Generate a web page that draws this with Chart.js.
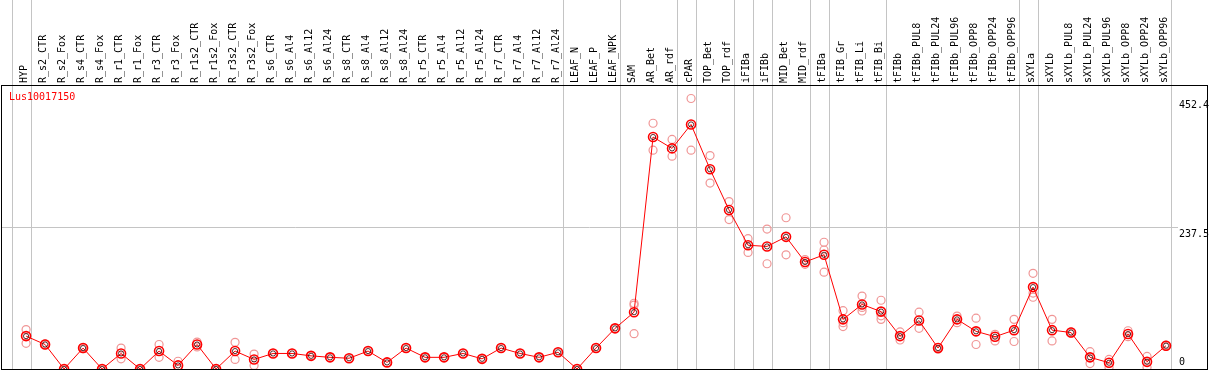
<!DOCTYPE html>
<html><head><meta charset="utf-8">
<script src="https://cdn.jsdelivr.net/npm/chart.js@4/dist/chart.umd.min.js"></script>
<style>html,body{margin:0;padding:0;background:#fff;overflow:hidden}#wrap{width:1209px;height:370px;position:relative}</style>
</head><body><div id="wrap"><canvas id="c" width="1209" height="370"></canvas></div>
<script>
const categories = ['HYP','R_s2_CTR','R_s2_Fox','R_s4_CTR','R_s4_Fox','R_r1_CTR','R_r1_Fox','R_r3_CTR','R_r3_Fox','R_r1s2_CTR','R_r1s2_Fox','R_r3s2_CTR','R_r3s2_Fox','R_s6_CTR','R_s6_Al4','R_s6_Al12','R_s6_Al24','R_s8_CTR','R_s8_Al4','R_s8_Al12','R_s8_Al24','R_r5_CTR','R_r5_Al4','R_r5_Al12','R_r5_Al24','R_r7_CTR','R_r7_Al4','R_r7_Al12','R_r7_Al24','LEAF_N','LEAF_P','LEAF_NPK','SAM','AR_Bet','AR_rdf','cPAR','TOP_Bet','TOP_rdf','iFIBa','iFIBb','MID_Bet','MID_rdf','tFIBa','tFIB_Gr','tFIB_Li','tFIB_Bi','tFIBb','tFIBb_PUL8','tFIBb_PUL24','tFIBb_PUL96','tFIBb_OPP8','tFIBb_OPP24','tFIBb_OPP96','sXYLa','sXYLb','sXYLb_PUL8','sXYLb_PUL24','sXYLb_PUL96','sXYLb_OPP8','sXYLb_OPP24','sXYLb_OPP96'];
const meanValues = [55,41,0,35,0,26,0,30,6,41,0,30,16,26,26,22,19.5,18,30,11,35,19.5,19.5,26,17,35,26,19.5,28,0,35,68,95,388,369,409,334,266,207,205,221,179,191,83,108,96,55,81,35,83,63,54,65,137,65,61,19.5,10.5,58.5,12,39];
const rep1 = [66,42,0,36,0,35,0,41,13,45,0,44.6,25,26,26,22,19.5,18,30,11,35,19.5,19.5,26,17,35,26,19.5,28,0,35,68,110,411,384,452.4,357,280,218,234,253,183,212,97.5,122,115,62,95,36,88.6,85,58,83,160,83,62,29,16,64,21,40];
const rep2 = [43,40.5,0,34,0,17,0,19.5,0,37,0,16,6,null,null,null,null,null,null,null,null,null,null,null,null,null,null,null,null,null,null,null,107,366,356,366,311,250,195,176,191,175,199,77.5,103,89,48.5,68,33,77.5,41,47,46,127,47,60,9,3,54,3,38];
const rep3 = [null,null,null,null,null,null,null,null,null,null,null,null,null,null,null,null,null,null,null,null,null,null,null,null,null,null,null,null,null,null,null,null,59,null,null,null,null,null,null,null,null,null,162,71,97,83,null,null,null,null,null,null,null,120,null,null,null,null,null,null,null];
const groupStarts = [0,1,29,32,35,36,38,39,40,42,43,46,53,54,61];
const yTickValues = [0, 237.5, 452.4];
const yTickLabels = ['0', '237.5', '452.4'];
const geneName = 'Lus10017150';

const X_MIN = -1.32, X_MAX = 60.63, Y_MAX = 475;
const FONT = {family: '"DejaVu Sans Mono", "Liberation Mono", monospace', size: 10};
const toXY = arr => arr.map((v, i) => (v === null ? null : {x: i, y: v})).filter(p => p);
const noPad = s => { s.paddingLeft = 0; s.paddingRight = 0; s.paddingTop = 0; s.paddingBottom = 0; };

const repStyle = {
  showLine: false, pointRadius: 4, pointBorderWidth: 1.2,
  pointBorderColor: 'rgba(240,150,150,1)', pointBackgroundColor: 'rgba(0,0,0,0)',
  borderColor: 'rgba(240,150,150,1)', order: 3
};

const decor = {
  id: 'decor',
  beforeDatasetsDraw(chart) {
    const {ctx, chartArea} = chart;
    const xs = chart.scales.x;
    ctx.save();
    ctx.strokeStyle = '#c4c4c4';
    ctx.lineWidth = 1;
    groupStarts.forEach(g => {
      const px = Math.round(xs.getPixelForValue(g - 0.76)) + 0.5;
      ctx.beginPath();
      ctx.moveTo(px, 0);
      ctx.lineTo(px, chartArea.bottom);
      ctx.stroke();
    });
    ctx.restore();
  },
  afterDraw(chart) {
    const {ctx, chartArea} = chart;
    ctx.save();
    ctx.strokeStyle = '#000';
    ctx.lineWidth = 1;
    ctx.strokeRect(1.5, chartArea.top + 0.5, chart.width - 3, chartArea.bottom - chartArea.top);
    ctx.fillStyle = '#ff0000';
    ctx.font = '10px ' + FONT.family;
    ctx.textBaseline = 'middle';
    ctx.textAlign = 'left';
    ctx.fillText(geneName, chartArea.left + 8, chartArea.top + 12);
    ctx.restore();
  }
};

new Chart(document.getElementById('c'), {
  type: 'line',
  data: {
    datasets: [
      {data: toXY(meanValues), borderColor: '#ff0000', borderWidth: 1, pointRadius: 4.5, pointBorderWidth: 1.6,
       pointBorderColor: '#ff0000', pointBackgroundColor: 'rgba(0,0,0,0)', order: 1, tension: 0},
      {data: toXY(meanValues), showLine: false, pointRadius: 2.6, pointBorderWidth: 0.8,
       pointBorderColor: '#300000', pointBackgroundColor: 'rgba(0,0,0,0)', borderColor: '#000', order: 0},
      Object.assign({data: toXY(rep1)}, repStyle),
      Object.assign({data: toXY(rep2)}, repStyle),
      Object.assign({data: toXY(rep3)}, repStyle)
    ]
  },
  options: {
    responsive: false, animation: false, devicePixelRatio: 1,
    layout: {autoPadding: false, padding: {left: 1, right: 0, top: 0, bottom: 1}},
    plugins: {legend: {display: false}, tooltip: {enabled: false}, title: {display: false}},
    scales: {
      x: {type: 'linear', display: false, min: X_MIN, max: X_MAX},
      xTop: {
        type: 'linear', position: 'top', min: X_MIN, max: X_MAX,
        afterBuildTicks: s => { s.ticks = categories.map((_, i) => ({value: i})); },
        afterFit: s => { s.height = 85; noPad(s); },
        grid: {display: false, drawTicks: false}, border: {display: false},
        ticks: {autoSkip: false, minRotation: 90, maxRotation: 90, padding: 2, labelOffset: 10, color: '#000', font: FONT,
                callback: v => categories[v]}
      },
      y: {
        type: 'linear', position: 'right', min: 0, max: Y_MAX,
        afterBuildTicks: s => { s.ticks = yTickValues.map(v => ({value: v})); },
        afterFit: s => { s.width = 31; noPad(s); },
        border: {display: false},
        grid: {drawTicks: false, lineWidth: 1,
               color: c => (c.tick && c.tick.value === 237.5 ? '#c4c4c4' : 'rgba(0,0,0,0)')},
        ticks: {crossAlign: 'near', padding: 1, color: '#000', font: Object.assign({lineHeight: 1.4}, FONT),
                callback: v => { const i = yTickValues.indexOf(v); const t = yTickLabels[i]; return v === 0 ? [t, ''] : ['', t]; }}
      }
    }
  },
  plugins: [decor]
});
</script>
</body></html>
